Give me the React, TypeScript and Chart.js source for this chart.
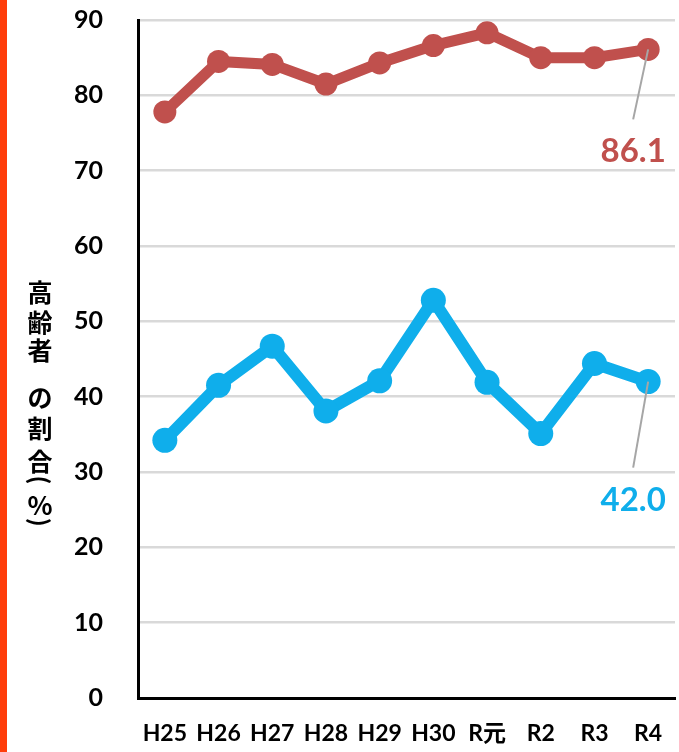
import React, { useEffect, useRef } from 'react';
import { Chart, registerables } from 'chart.js';

Chart.register(...registerables);

const categories = ['H25', 'H26', 'H27', 'H28', 'H29', 'H30', 'R元', 'R2', 'R3', 'R4'];
const seriesRed = [77.8, 84.5, 84.1, 81.5, 84.3, 86.6, 88.3, 85.0, 85.0, 86.1];
const seriesBlue = [34.2, 41.5, 46.7, 38.1, 42.1, 52.8, 41.9, 35.1, 44.4, 42.0];
const yMin = 0;
const yMax = 90;
const yStep = 10;
const yTitle = ['高', '齢', '者', 'の', '割', '合', '(', '%', ')'];

const RED = '#C0504D';
const BLUE = '#0FAEEB';

// vertical placement of each title glyph (style only)
const titleCenters = [291, 321, 349, 396, 427, 460, 480, 504, 522];

const sidePlugin = {
  id: 'side',
  beforeDraw(chart: any) {
    const ctx = chart.ctx;
    ctx.save();
    ctx.fillStyle = '#FF3D0A';
    ctx.fillRect(0, 0, 7, chart.height);
    ctx.restore();
  },
};

const labelPlugin = {
  id: 'endLabels',
  afterDatasetsDraw(chart: any) {
    const ctx = chart.ctx;
    const offsets = [70, 86];
    chart.data.datasets.forEach((ds: any, i: number) => {
      const meta = chart.getDatasetMeta(i);
      const last = meta.data[meta.data.length - 1];
      if (!last) return;
      const x = last.x;
      const y = last.y;
      const ex = x - 15;
      const ey = y + offsets[i];
      ctx.save();
      ctx.strokeStyle = '#A6A6A6';
      ctx.lineWidth = 2;
      ctx.beginPath();
      ctx.moveTo(x, y);
      ctx.lineTo(ex, ey);
      ctx.stroke();
      ctx.fillStyle = ds.borderColor;
      ctx.font = 'bold 33px Lato';
      ctx.textAlign = 'center';
      ctx.textBaseline = 'alphabetic';
      const v = ds.data[ds.data.length - 1];
      ctx.fillText(Number(v).toFixed(1), ex, ey + 43);
      ctx.restore();
    });
  },
};

export default function App() {
  const ref = useRef<HTMLCanvasElement | null>(null);
  useEffect(() => {
    if (!ref.current) return;
    const chart = new Chart(ref.current, {
      type: 'line',
      data: {
        labels: categories,
        datasets: [
          {
            data: seriesRed,
            borderColor: RED,
            backgroundColor: RED,
            borderWidth: 11,
            pointRadius: 11.5,
            pointBorderWidth: 0,
            pointBackgroundColor: RED,
            tension: 0,
          },
          {
            data: seriesBlue,
            borderColor: BLUE,
            backgroundColor: BLUE,
            borderWidth: 12,
            pointRadius: 12.5,
            pointBorderWidth: 0,
            pointBackgroundColor: BLUE,
            tension: 0,
          },
        ],
      },
      options: {
        animation: false,
        responsive: true,
        maintainAspectRatio: false,
        layout: { autoPadding: false, padding: { left: 0, right: 4, top: 20, bottom: 0 } },
        plugins: {
          legend: { display: false },
          tooltip: { enabled: false },
        },
        scales: {
          x: {
            offset: true,
            grid: { display: false, drawTicks: false },
            border: { color: '#000', width: 3 },
            ticks: {
              color: '#000',
              padding: 22,
              maxRotation: 0,
              autoSkip: false,
              font: { family: 'Lato, "Noto Sans CJK JP"', size: 23, weight: 'bold' },
            },
            afterFit(scale: any) {
              scale.height = 54;
              scale.paddingLeft = 0;
              scale.paddingRight = 0;
            },
          },
          y: {
            min: yMin,
            max: yMax,
            ticks: {
              stepSize: yStep,
              color: '#000',
              padding: 35,
              font: { family: 'Lato', size: 25, weight: 'bold' },
            },
            grid: { color: '#D9D9D9', lineWidth: 2.5, drawTicks: false },
            border: { color: '#000', width: 3 },
            afterFit(scale: any) {
              scale.width = 138;
              scale.paddingTop = 0;
              scale.paddingBottom = 0;
            },
          },
        },
      },
      plugins: [sidePlugin, labelPlugin],
    });
    return () => chart.destroy();
  }, []);
  return (
    <div style={{ position: 'fixed', left: 0, top: 0, width: 679, height: 752, background: '#fff' }}>
      <canvas ref={ref} />
      {yTitle.map((ch, i) => {
        const isParen = ch === '(' || ch === ')';
        return (
          <div
            key={i}
            style={{
              position: 'absolute',
              left: 26,
              width: 28,
              top: titleCenters[i] - 15,
              height: 30,
              lineHeight: '30px',
              textAlign: 'center',
              fontFamily: isParen ? 'Lato, sans-serif' : '"Noto Sans CJK JP", sans-serif',
              fontWeight: 700,
              fontSize: isParen ? 26 : ch === '%' ? 26 : 25,
              color: '#000',
              transform: isParen ? 'rotate(90deg)' : undefined,
              transformOrigin: '50% 50%',
            }}
          >
            {ch}
          </div>
        );
      })}
    </div>
  );
}
